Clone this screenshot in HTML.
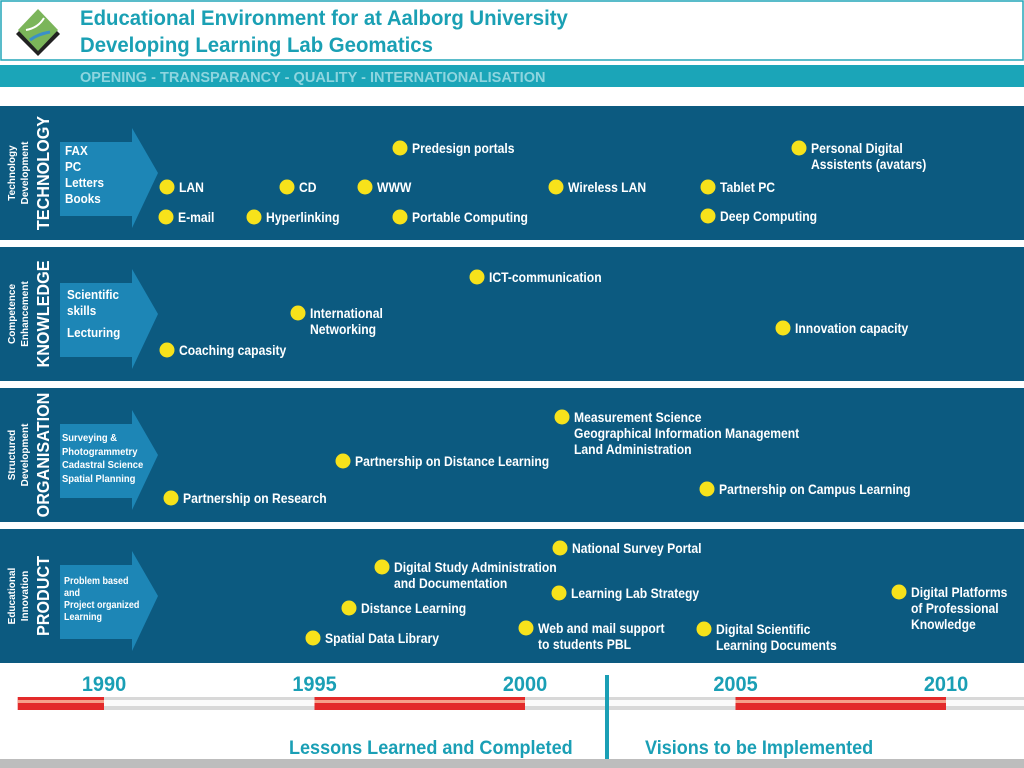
<!DOCTYPE html>
<html><head><meta charset="utf-8"><style>
html,body{margin:0;padding:0;background:#fff;}
svg{display:block;font-family:"Liberation Sans",sans-serif;font-weight:bold;}
</style></head><body>
<svg id="s" width="1024" height="768" viewBox="0 0 1024 768">
<rect x="1" y="1" width="1022" height="59" fill="#fff" stroke="#22a6b8" stroke-width="1.5"/>
<g>
<polygon points="38,12 60,34 38,56 16,34" fill="#222"/>
<polygon points="38,9 58,30 38,51 18,30" fill="#7bb55a"/>
<path d="M26,30 Q38,28 44,18" stroke="#fff" stroke-width="2" fill="none"/>
<path d="M30,40 Q38,34 50,32" stroke="#3a8fc8" stroke-width="3" fill="none"/>
</g>
<g transform="translate(80,0) scale(0.97,1)" fill="#1aa0b4" font-size="21">
<text x="0" y="25">Educational Environment for at Aalborg University</text>
<text x="0" y="52">Developing Learning Lab Geomatics</text>
</g>
<rect x="0" y="65" width="1024" height="22" fill="#1ba5b8"/>
<text transform="translate(80,82) scale(0.97,1)" fill="#8ed5df" font-size="15">OPENING - TRANSPARANCY - QUALITY - INTERNATIONALISATION</text>
<g id="panels"></g>
<g id="timeline"></g>
</svg>
<script>
const panelTops=[106,247,388,529];
const panelSmall=[["Technology","Development"],["Competence","Enhancement"],["Structured","Development"],["Educational","Innovation"]];
const panelBig=["TECHNOLOGY","KNOWLEDGE","ORGANISATION","PRODUCT"];
const arrowText=[[["FAX",155],["PC",171],["Letters",187],["Books",203]],[["Scientific",299],["skills",315],["Lecturing",337]],[["Surveying &",441],["Photogrammetry",455],["Cadastral Science",468],["Spatial Planning",482]],[["Problem based",584],["and",596],["Project organized",608],["Learning",620]]];
const arrowFont=[13,13,10.5,10];
const arrowX=[65,67,62,64];
const eventX=[400,799,167,287,365,556,708,166,254,400,708,477,298,783,167,562,343,707,171,560,382,559,899,349,526,704,313];
const eventY=[148,148,187,187,187,187,187,217,217,217,216,277,313,328,350,417,461,489,498,548,567,593,592,608,628,629,638];
const eventText=[["Predesign portals"],["Personal Digital","Assistents (avatars)"],["LAN"],["CD"],["WWW"],["Wireless LAN"],["Tablet PC"],["E-mail"],["Hyperlinking"],["Portable Computing"],["Deep Computing"],["ICT-communication"],["International","Networking"],["Innovation capacity"],["Coaching capasity"],["Measurement Science","Geographical Information Management","Land Administration"],["Partnership on Distance Learning"],["Partnership on Campus Learning"],["Partnership on Research"],["National Survey Portal"],["Digital Study Administration","and Documentation"],["Learning Lab Strategy"],["Digital Platforms","of Professional","Knowledge"],["Distance Learning"],["Web and mail support","to students PBL"],["Digital Scientific","Learning Documents"],["Spatial Data Library"]];
const years=["1990","1995","2000","2005","2010"];
const yearVals=[1990,1995,2000,2005,2010];
const redStart=[1987.95,1995,2005];
const redEnd=[1990,2000,2010];
const NS="http://www.w3.org/2000/svg";
function mk(tag,attrs,parent,txt){const e=document.createElementNS(NS,tag);for(const k in attrs)e.setAttribute(k,attrs[k]);if(txt!=null)e.textContent=txt;parent.appendChild(e);return e;}
const P=document.getElementById('panels');
panelTops.forEach((t,i)=>{
 const g=mk('g',{},P);
 
 
 mk('rect',{x:0,y:t,width:1024,height:134,fill:'#0c5a80'},g);
 const mid=t+67;
 const s1=mk('text',{transform:`translate(15,${mid}) rotate(-90)`,'text-anchor':'middle','font-size':10,fill:'#fff'},g,panelSmall[i][0]);
 
 const s2=mk('text',{transform:`translate(28,${mid}) rotate(-90)`,'text-anchor':'middle','font-size':10,fill:'#fff'},g,panelSmall[i][1]);
 
 const b=mk('text',{transform:`translate(49,${mid}) rotate(-90) scale(0.9,1)`,'text-anchor':'middle','font-size':18,fill:'#fff'},g,panelBig[i]);
 
 const a=mk('polygon',{points:`60,${t+36} 132,${t+36} 132,${t+22} 158,${mid} 132,${t+122} 132,${t+110} 60,${t+110}`,fill:'#1d86b6'},g);
 
 arrowText[i].forEach(([s,y])=>{const e=mk('text',{transform:`translate(${arrowX[i]},${y}) scale(0.9,1)`,'font-size':arrowFont[i],fill:'#fff'},g,s);
  });
});
eventX.forEach((x,i)=>{
 const g=mk('g',{},P);
 
 
 const y=eventY[i];
 mk('circle',{cx:x,cy:y,r:7.5,fill:'#f7e21b'},g);
 eventText[i].forEach((s,j)=>mk('text',{transform:`translate(${x+12},${y+5+j*16}) scale(0.9,1)`,'font-size':13.5,fill:'#fff'},g,s));
});
const T=document.getElementById('timeline');
const xs=v=>104+(v-1990)*42.1;
const bar=mk('g',{},T);


mk('rect',{x:18,y:697,width:1006,height:13,fill:'#d8d8d8'},bar);
mk('rect',{x:18,y:700,width:1006,height:6,fill:'#fafafa'},bar);
redStart.forEach((v,i)=>{
 const r=mk('g',{},bar);
 
 
 mk('rect',{x:xs(v),y:697,width:xs(redEnd[i])-xs(v),height:13,fill:'#e32a2a'},r);
 mk('rect',{x:xs(v),y:700,width:xs(redEnd[i])-xs(v),height:3,fill:'#f6a08a'},r);
});
years.forEach((s,i)=>{
 const e=mk('text',{x:0,y:691,'text-anchor':'middle','font-size':21,fill:'#1a9fb5',transform:`translate(${xs(yearVals[i])},0) scale(0.95,1)`},T,s);
 
 
});
const d=mk('rect',{x:605,y:675,width:4,height:84,fill:'#1a9fb5'},T);


const l1=mk('text',{transform:'translate(289,754) scale(0.95,1)','font-size':19,fill:'#1a9fb5'},T,'Lessons Learned and Completed');


const l2=mk('text',{transform:'translate(645,754) scale(0.95,1)','font-size':19,fill:'#1a9fb5'},T,'Visions to be Implemented');


const gb=mk('rect',{x:0,y:759,width:1024,height:9,fill:'#bdbdbd'},T);


</script>
</body></html>
